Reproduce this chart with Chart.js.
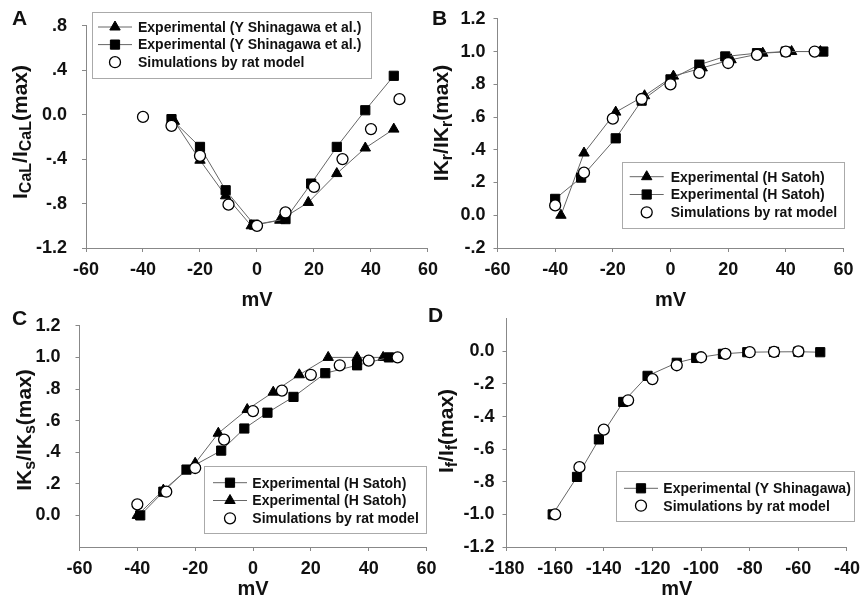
<!DOCTYPE html>
<html>
<head>
<meta charset="utf-8">
<script src="https://cdn.jsdelivr.net/npm/chart.js@4.4.1/dist/chart.umd.min.js"></script>
<style>
  body { margin: 0; background: #fff; }
  #wrap { position: relative; width: 867px; height: 604px; overflow: hidden; }
  canvas { position: absolute; }
</style>
</head>
<body>
<div id="wrap">
  <canvas id="chartA" width="445" height="320" style="left:0;top:0"></canvas>
  <canvas id="chartB" width="442" height="320" style="left:425px;top:0"></canvas>
  <canvas id="chartC" width="445" height="304" style="left:0;top:300px"></canvas>
  <canvas id="chartD" width="442" height="304" style="left:425px;top:300px"></canvas>
</div>
<script>
// Panel A - ICaL I-V relation
const aVoltTri = [-29, -20, -11, -2, 8, 18, 28, 38, 48];
const aCurrTri = [-0.06, -0.41, -0.73, -1.0, -0.95, -0.79, -0.53, -0.30, -0.13];
const aVoltSq = [-30, -20, -11, -1, 10, 19, 28, 38, 48];
const aCurrSq = [-0.04, -0.29, -0.68, -0.99, -0.94, -0.62, -0.29, 0.04, 0.35];
const aVoltSim = [-40, -30, -20, -10, 0, 10, 20, 30, 40, 50];
const aCurrSim = [-0.02, -0.10, -0.37, -0.81, -1.0, -0.88, -0.65, -0.40, -0.13, 0.14];
const aYTicks = [-1.2, -0.8, -0.4, 0, 0.4, 0.8];
const aYLabels = ['-1.2', '-.8', '-.4', '0.0', '.4', '.8'];

// Panel B - IKr activation
const bVoltTri = [-38, -30, -19, -9, 1, 11, 21, 32, 42, 52];
const bCurrTri = [0.0, 0.38, 0.63, 0.73, 0.85, 0.90, 0.95, 0.99, 1.0, 1.0];
const bVoltSq = [-40, -31, -19, -10, 0, 10, 19, 30, 40, 53];
const bCurrSq = [0.10, 0.23, 0.47, 0.70, 0.83, 0.92, 0.97, 0.99, 1.0, 1.0];
const bVoltSim = [-40, -30, -20, -10, 0, 10, 20, 30, 40, 50];
const bCurrSim = [0.06, 0.26, 0.59, 0.71, 0.80, 0.87, 0.93, 0.98, 1.0, 1.0];
const bYTicks = [-0.2, 0, 0.2, 0.4, 0.6, 0.8, 1.0, 1.2];
const bYLabels = ['-.2', '0.0', '.2', '.4', '.6', '.8', '1.0', '1.2'];

// Panel C - IKs activation
const cVoltSq = [-39, -31, -23, -11, -3, 5, 14, 25, 36, 47];
const cCurrSq = [0.0, 0.15, 0.29, 0.41, 0.55, 0.65, 0.75, 0.90, 0.95, 1.0];
const cVoltTri = [-40, -31, -20, -12, -2, 7, 16, 26, 36, 45];
const cCurrTri = [0.0, 0.16, 0.33, 0.52, 0.67, 0.78, 0.89, 1.0, 1.0, 1.0];
const cVoltSim = [-40, -30, -20, -10, 0, 10, 20, 30, 40, 50];
const cCurrSim = [0.07, 0.15, 0.30, 0.48, 0.66, 0.79, 0.89, 0.95, 0.98, 1.0];
const cYTicks = [0, 0.2, 0.4, 0.6, 0.8, 1.0, 1.2];
const cYLabels = ['0.0', '.2', '.4', '.6', '.8', '1.0', '1.2'];

const mvTicks = [-60, -40, -20, 0, 20, 40, 60];

// Panel D - If activation
const dVoltSq = [-161, -151, -142, -132, -122, -110, -102, -91, -81, -70, -60, -51];
const dCurrSq = [-1.0, -0.77, -0.54, -0.31, -0.15, -0.07, -0.04, -0.015, -0.005, -0.003, -0.002, -0.005];
const dVoltSim = [-160, -150, -140, -130, -120, -110, -100, -90, -80, -70, -60];
const dCurrSim = [-1.0, -0.71, -0.48, -0.30, -0.17, -0.085, -0.036, -0.015, -0.005, -0.003, 0.0];
const dXTicks = [-180, -160, -140, -120, -100, -80, -60, -40];
const dYTicks = [-1.2, -1.0, -0.8, -0.6, -0.4, -0.2, 0];
const dYLabels = ['-1.2', '-1.0', '-.8', '-.6', '-.4', '-.2', '0.0'];

const FONT = '"Liberation Sans", Arial, sans-serif';
const tickFont = { family: FONT, size: 18, weight: 'bold' };
const titleFont = { family: FONT, size: 20, weight: 'bold' };

const pts = (xs, ys) => xs.map((x, i) => ({ x: x, y: ys[i] }));

function expSet(label, xs, ys, style, order) {
    return {
        label: label,
        data: pts(xs, ys),
        showLine: true,
        borderColor: '#666',
        borderWidth: 1,
        pointStyle: style,
        pointRadius: style === 'rect' ? 6.5 : 6,
        pointBackgroundColor: '#000',
        pointBorderColor: '#000',
        pointBorderWidth: 1,
        order: order
    };
}

function simSet(xs, ys) {
    return {
        label: 'Simulations by rat model',
        data: pts(xs, ys),
        showLine: false,
        pointStyle: 'circle',
        pointRadius: 5.5,
        pointBackgroundColor: '#fff',
        pointBorderColor: '#000',
        pointBorderWidth: 1.3,
        order: 0
    };
}

function axes(o) {
    const grid = { drawOnChartArea: false, drawTicks: true, tickLength: 4, color: '#888' };
    const border = { color: '#888', width: 1 };
    return {
        x: {
            type: 'linear',
            min: o.xTicks[0],
            max: o.xTicks[o.xTicks.length - 1],
            afterBuildTicks: s => { s.ticks = o.xTicks.map(v => ({ value: v })); },
            afterFit: s => { s.height = o.xH; },
            ticks: { color: '#111', font: tickFont, padding: 7, maxRotation: 0, autoSkip: false, callback: v => String(v) },
            grid: grid,
            border: border,
            title: { display: true, text: 'mV', color: '#111', font: titleFont, padding: { top: 0, bottom: o.tPad } }
        },
        y: {
            type: 'linear',
            min: o.yMin,
            max: o.yMax,
            afterBuildTicks: s => { s.ticks = o.yTicks.map(v => ({ value: v })); },
            afterFit: s => { s.width = o.yW; },
            ticks: { color: '#111', font: tickFont, padding: o.yPad, autoSkip: false, callback: v => o.yLabels[o.yTicks.indexOf(v)] },
            grid: grid,
            border: border
        }
    };
}

// panel letter + rotated y title with subscripts
const panelText = {
    id: 'panelText',
    afterDraw(chart, args, o) {
        const ctx = chart.ctx;
        const mainF = 'bold 21px ' + FONT;
        const subF = 'bold 16px ' + FONT;
        ctx.save();
        ctx.fillStyle = '#111';
        ctx.textBaseline = 'alphabetic';
        ctx.font = 'bold 21px ' + FONT;
        ctx.fillText(o.letter, o.lx, o.ly);
        let total = 0;
        o.title.forEach(p => {
            ctx.font = p[1] ? subF : mainF;
            total += ctx.measureText(p[0]).width;
        });
        ctx.translate(o.tx, o.ty);
        ctx.rotate(-Math.PI / 2);
        let x = -total / 2;
        o.title.forEach(p => {
            ctx.font = p[1] ? subF : mainF;
            ctx.fillText(p[0], x, p[1] ? 11 : 7);
            x += ctx.measureText(p[0]).width;
        });
        ctx.restore();
    }
};

// boxed legend placed inside the plot
const boxLegend = {
    id: 'boxLegend',
    afterDraw(chart, args, o) {
        const ctx = chart.ctx;
        ctx.save();
        ctx.strokeStyle = '#aaa';
        ctx.lineWidth = 1;
        ctx.strokeRect(Math.round(o.x) + 0.5, Math.round(o.y) + 0.5, Math.round(o.w), Math.round(o.h));
        o.items.forEach((di, i) => {
            const ds = chart.data.datasets[di];
            const cy = o.rowY + i * o.rowH;
            if (ds.showLine) {
                ctx.strokeStyle = '#666';
                ctx.lineWidth = 1;
                ctx.beginPath();
                ctx.moveTo(o.mx - 17, cy);
                ctx.lineTo(o.mx + 17, cy);
                ctx.stroke();
            }
            ctx.fillStyle = ds.pointBackgroundColor;
            ctx.strokeStyle = ds.pointBorderColor;
            ctx.lineWidth = ds.pointBorderWidth;
            Chart.helpers.drawPoint(ctx, { pointStyle: ds.pointStyle, radius: ds.pointRadius, borderWidth: ds.pointBorderWidth, rotation: 0 }, o.mx, cy);
            ctx.fillStyle = '#111';
            ctx.font = 'bold 14px ' + FONT;
            ctx.textBaseline = 'middle';
            ctx.fillText(ds.label, o.tx, cy + 1);
        });
        ctx.restore();
    }
};

function makeChart(id, datasets, o) {
    return new Chart(document.getElementById(id), {
        type: 'scatter',
        data: { datasets: datasets },
        options: {
            responsive: false,
            animation: false,
            devicePixelRatio: 1,
            layout: { padding: { left: 0, top: o.padTop, right: o.padRight, bottom: 0 } },
            scales: axes(o),
            plugins: {
                legend: { display: false },
                tooltip: { enabled: false },
                panelText: o.text,
                boxLegend: o.legend
            }
        },
        plugins: [panelText, boxLegend]
    });
}

makeChart('chartA', [
    expSet('Experimental (Y Shinagawa et al.)', aVoltTri, aCurrTri, 'triangle', 2),
    expSet('Experimental (Y Shinagawa et al.)', aVoltSq, aCurrSq, 'rect', 1),
    simSet(aVoltSim, aCurrSim)
], {
    xTicks: mvTicks, yTicks: aYTicks, yLabels: aYLabels, yMin: -1.2, yMax: 0.8,
    padTop: 16, padRight: 13, yW: 86, xH: 72, tPad: 8, yPad: 15,
    text: { letter: 'A', lx: 12, ly: 25, tx: 20, ty: 132, title: [['I', 0], ['CaL', 1], ['/I', 0], ['CaL', 1], ['(max)', 0]] },
    legend: { x: 92, y: 12, w: 279, h: 66, rowY: 27, rowH: 17.6, mx: 115, tx: 138, items: [0, 1, 2] }
});

makeChart('chartB', [
    expSet('Experimental (H Satoh)', bVoltTri, bCurrTri, 'triangle', 2),
    expSet('Experimental (H Satoh)', bVoltSq, bCurrSq, 'rect', 1),
    simSet(bVoltSim, bCurrSim)
], {
    xTicks: mvTicks, yTicks: bYTicks, yLabels: bYLabels, yMin: -0.2, yMax: 1.2,
    padTop: 16, padRight: 23.5, yW: 72.5, xH: 72, tPad: 8, yPad: 8,
    text: { letter: 'B', lx: 7, ly: 25, tx: 16, ty: 123, title: [['IK', 0], ['r', 1], ['/IK', 0], ['r', 1], ['(max)', 0]] },
    legend: { x: 197, y: 162, w: 222, h: 66, rowY: 176.7, rowH: 17.8, mx: 221.7, tx: 245.7, items: [0, 1, 2] }
});

makeChart('chartC', [
    expSet('Experimental (H Satoh)', cVoltSq, cCurrSq, 'rect', 1),
    expSet('Experimental (H Satoh)', cVoltTri, cCurrTri, 'triangle', 2),
    simSet(cVoltSim, cCurrSim)
], {
    xTicks: mvTicks, yTicks: cYTicks, yLabels: cYLabels, yMin: -0.2, yMax: 1.2,
    padTop: 16, padRight: 18.5, yW: 79.5, xH: 57, tPad: 2.5, yPad: 15,
    text: { letter: 'C', lx: 12, ly: 25, tx: 24, ty: 130, title: [['IK', 0], ['s', 1], ['/IK', 0], ['s', 1], ['(max)', 0]] },
    legend: { x: 204, y: 166, w: 222, h: 67, rowY: 182.7, rowH: 17.8, mx: 230, tx: 252.3, items: [0, 1, 2] }
});

makeChart('chartD', [
    expSet('Experimental (Y Shinagawa)', dVoltSq, dCurrSq, 'rect', 1),
    simSet(dVoltSim, dCurrSim)
], {
    xTicks: dXTicks, yTicks: dYTicks, yLabels: dYLabels, yMin: -1.2, yMax: 0.2,
    padTop: 13, padRight: 14, yW: 81.5, xH: 57, tPad: 2.5, yPad: 8,
    text: { letter: 'D', lx: 3, ly: 22, tx: 21, ty: 131, title: [['I', 0], ['f', 1], ['/I', 0], ['f', 1], ['(max)', 0]] },
    legend: { x: 191, y: 171, w: 238, h: 50, rowY: 188.3, rowH: 17.4, mx: 216, tx: 238.3, items: [0, 1] }
});
</script>
</body>
</html>
